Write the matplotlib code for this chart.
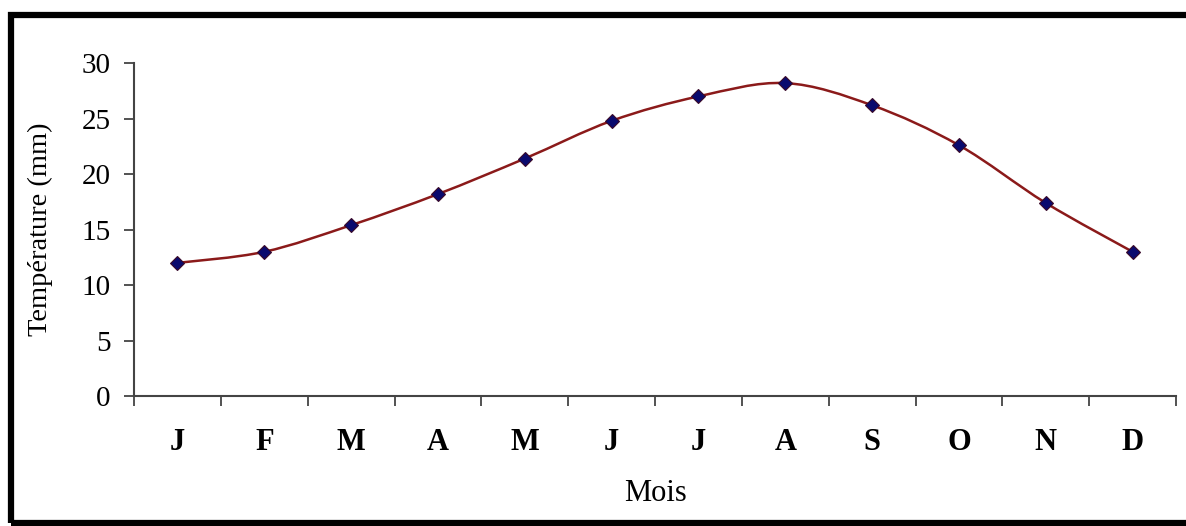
import numpy as np
import matplotlib
matplotlib.use("Agg")
import matplotlib.pyplot as plt
from matplotlib.path import Path
from matplotlib.patches import PathPatch, Rectangle

months = ['J', 'F', 'M', 'A', 'M', 'J', 'J', 'A', 'S', 'O', 'N', 'D']
temperature = [12.0, 13.0, 15.4, 18.2, 21.4, 24.8, 27.0, 28.2, 26.2, 22.6, 17.4, 13.0]
y_ticks = [0, 5, 10, 15, 20, 25, 30]

line_col = '#8b1a1a'
marker_col = '#0a0a6e'
axis_col = '#444444'

plt.rcParams['font.family'] = ['Liberation Serif', 'DejaVu Serif']


# excel style smoothed line: bezier segments through the points
def smooth_path(x, y):
    pts = np.column_stack([x, y]).astype(float)
    n = len(pts)
    verts = [pts[0]]
    codes = [Path.MOVETO]
    for i in range(n - 1):
        p0 = pts[max(i - 1, 0)]
        p1 = pts[i]
        p2 = pts[i + 1]
        p3 = pts[min(i + 2, n - 1)]
        c1 = p1 + (p2 - p0) / 6
        c2 = p2 - (p3 - p1) / 6
        verts += [c1, c2, p2]
        codes += [Path.CURVE4] * 3
    return Path(verts, codes)


fig = plt.figure(figsize=(11.86, 5.26), dpi=100)
ax = fig.add_axes([0.113, 0.247, 0.8786, 0.633])

x = np.arange(len(months))
ax.add_patch(PathPatch(smooth_path(x, temperature), facecolor='none',
                       edgecolor=line_col, lw=1.8, zorder=2))
ax.plot(x, temperature, linestyle='none', marker='D', ms=7,
        color=marker_col, markeredgecolor='#3a0a2a', markeredgewidth=0.8, zorder=3)

ax.set_xlim(-0.5, len(months) - 0.5)
ax.set_ylim(0, 30)
ax.set_yticks(y_ticks)
ax.set_yticklabels([str(v) for v in y_ticks], fontsize=21)

# ticks between categories, labels centred
ax.set_xticks(np.arange(-0.5, len(months), 1.0))
ax.set_xticklabels([])
ax.set_xticks(x, minor=True)
ax.set_xticklabels(months, minor=True, fontsize=22, fontweight='bold')
ax.tick_params(axis='x', which='minor', length=0, pad=23)
ax.tick_params(axis='x', which='major', length=7, width=1.3, color=axis_col)
ax.tick_params(axis='y', length=7, width=1.3, color=axis_col, pad=10)

for s in ['top', 'right']:
    ax.spines[s].set_visible(False)
for s in ['left', 'bottom']:
    ax.spines[s].set_color(axis_col)
    ax.spines[s].set_linewidth(1.5)

ax.set_ylabel('Température (mm)', fontsize=20.5, labelpad=20)
ax.set_xlabel('Mois', fontsize=22, labelpad=16)

# black frame around the figure
fig.patches.append(Rectangle((11 / 1186, 3 / 526), 1.2, 1 - 17.5 / 526,
                             transform=fig.transFigure, fill=False,
                             edgecolor='black', lw=4.5, zorder=10))

fig.savefig('out.png', dpi=100)
